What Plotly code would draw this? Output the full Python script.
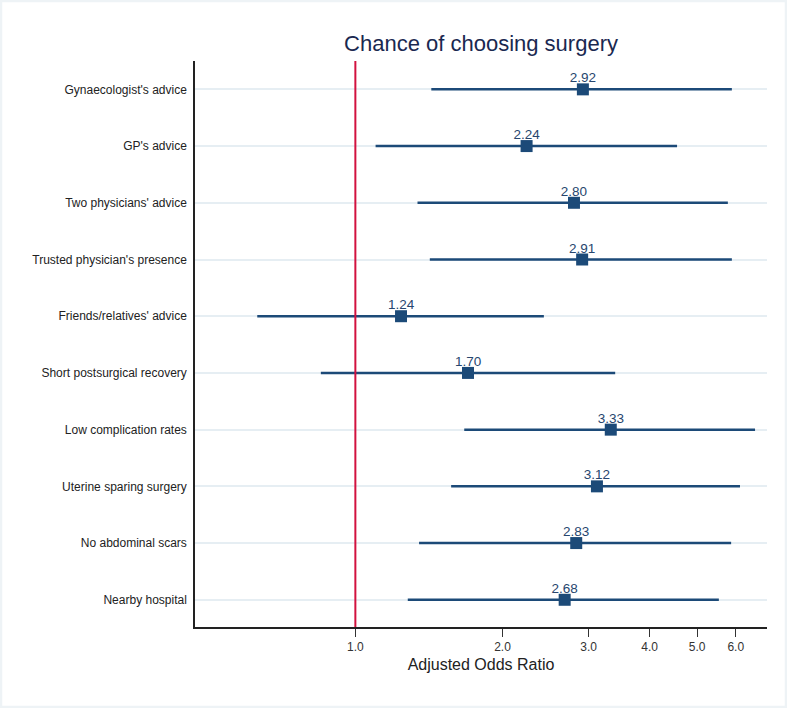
import plotly.graph_objects as go

# factors, top to bottom
factors = [
    "Gynaecologist's advice",
    "GP's advice",
    "Two physicians' advice",
    "Trusted physician's presence",
    "Friends/relatives' advice",
    "Short postsurgical recovery",
    "Low complication rates",
    "Uterine sparing surgery",
    "No abdominal scars",
    "Nearby hospital",
]
aor = [2.92, 2.24, 2.80, 2.91, 1.24, 1.70, 3.33, 3.12, 2.83, 2.68]
ci_low = [1.43, 1.10, 1.34, 1.42, 0.63, 0.85, 1.67, 1.57, 1.35, 1.28]
ci_high = [5.89, 4.55, 5.78, 5.89, 2.43, 3.40, 6.57, 6.12, 5.87, 5.54]
tick_vals = [1, 2, 3, 4, 5, 6]
tick_text = ["1.0", "2.0", "3.0", "4.0", "5.0", "6.0"]

navy = "#1c4a78"
font = "Liberation Sans, Arial, sans-serif"

fig = go.Figure()

# point estimates with confidence interval whiskers
fig.add_trace(
    go.Scatter(
        x=aor, y=factors,
        mode="markers",
        marker=dict(symbol="square", size=12, color=navy),
        error_x=dict(
            type="data", symmetric=False,
            array=[h - v for h, v in zip(ci_high, aor)],
            arrayminus=[v - l for v, l in zip(aor, ci_low)],
            color=navy, thickness=2.5, width=0,
        ),
        showlegend=False,
    )
)

# value labels sitting right on top of the squares
# (invisible small marker just to control the text offset)
fig.add_trace(
    go.Scatter(
        x=aor, y=factors,
        mode="markers+text",
        marker=dict(size=4, color="rgba(0,0,0,0)"),
        text=["{:.2f}".format(v) for v in aor],
        textposition="top center",
        textfont=dict(size=13.5, color="#27466e", family=font),
        cliponaxis=False,
        showlegend=False,
        hoverinfo="skip",
    )
)

# reference line at OR = 1
fig.add_shape(
    type="line", xref="x", yref="paper",
    x0=1, x1=1, y0=0, y1=1,
    line=dict(color="#d2123f", width=2),
    layer="above",
)

# thin light frame around the picture
fig.add_shape(
    type="rect", xref="paper", yref="paper",
    x0=-0.337, x1=1.031, y0=-0.139, y1=1.104,
    fillcolor="white", line=dict(width=0), layer="below",
)

fig.update_layout(
    width=787, height=708,
    margin=dict(l=195, r=20, t=61, b=81),
    paper_bgcolor="#eef3f6",
    plot_bgcolor="white",
    font=dict(family=font, color="#222222", size=12),
    title=dict(
        text="Chance of choosing surgery",
        x=0.5, xref="paper", xanchor="center",
        y=1 - 43 / 708, yanchor="middle",
        font=dict(size=22, color="#1a2850", family=font),
    ),
    xaxis=dict(
        type="log",
        range=[-0.328, 0.842],
        tickvals=tick_vals, ticktext=tick_text,
        ticks="outside", ticklen=8, tickcolor="#333333",
        tickfont=dict(size=12, color="#333333"),
        showgrid=False, zeroline=False,
        showline=True, linecolor="#222222", linewidth=1.5,
        title=dict(text="Adjusted Odds Ratio", font=dict(size=16, color="#222222"), standoff=6),
    ),
    yaxis=dict(
        type="category",
        categoryorder="array", categoryarray=factors,
        range=[9.48, -0.5],
        showgrid=True, gridcolor="#e6eef3", gridwidth=2,
        showline=True, linecolor="#222222", linewidth=1.5,
        ticks="", ticklabelstandoff=4,
        tickfont=dict(size=12, color="#222222"),
        zeroline=False,
    ),
)

fig.write_html(
    "out.html",
    config={"displayModeBar": False},
    post_script="document.body.style.margin='0';",
)
